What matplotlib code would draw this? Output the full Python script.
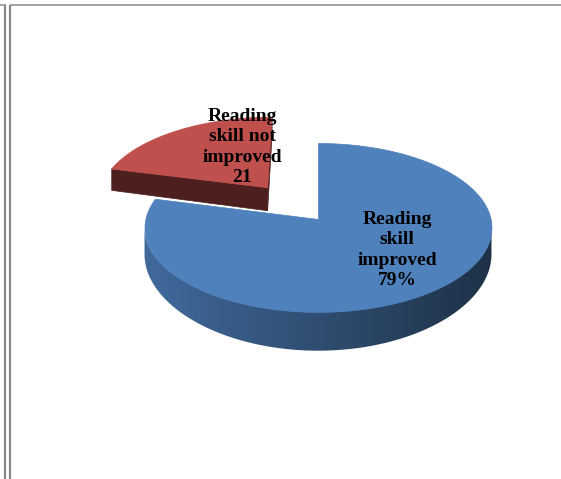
import numpy as np
import matplotlib.pyplot as plt
from matplotlib.collections import PolyCollection
from matplotlib.patches import Polygon
from matplotlib.colors import to_rgb

labels = ['Reading\nskill\nimproved\n79%', 'Reading\nskill not\nimproved\n21']
values = [79, 21]
colors = ['#4f81bd', '#c0504d']
explode = [0.0, 0.5]

# pie disc -> canvas pixels, with a little perspective
cx, cy = 318, 219
rx, ry = 172.6, 83.6
k = 0.1
thick, k_side = 26, 0.33


def project(u, v):
    s = 1 + k * v
    return cx + rx * u / s, cy - ry * v / s


def depth(v):
    return thick / (1 + k_side * v)


def shade(c, f):
    return tuple(np.clip(np.array(to_rgb(c)) * f, 0, 1))


fig = plt.figure(figsize=(5.61, 4.79), dpi=100)
ax = fig.add_axes([0, 0, 1, 1])
ax.set_xlim(0, 561)
ax.set_ylim(479, 0)
ax.axis('off')

# frame lines
gray = '#888888'
ax.plot([5, 5], [5, 479], color=gray, lw=1.6, solid_capstyle='butt')
ax.plot([10, 10], [5, 479], color=gray, lw=1.6, solid_capstyle='butt')
ax.plot([0, 6], [5, 5], color=gray, lw=1.1, solid_capstyle='butt')
ax.plot([10, 561], [5, 5], color=gray, lw=1.1, solid_capstyle='butt')

total = sum(values)
sweeps = [360.0 * v / total for v in values]
starts = 90 - np.concatenate([[0], np.cumsum(sweeps)[:-1]])
cam = np.array([0.0, -1.0 / k])

slices = []
for i, (val, sw) in enumerate(zip(values, sweeps)):
    t0, t1 = starts[i], starts[i] - sw
    mid = np.radians((t0 + t1) / 2)
    off = explode[i] * np.array([np.cos(mid), np.sin(mid)])
    slices.append((i, t0, t1, off))

# back slices first
slices.sort(key=lambda s: -s[3][1])

for i, t0, t1, off in slices:
    col = colors[i]
    ts = np.radians(np.linspace(t0, t1, 400))
    rim = np.column_stack([off[0] + np.cos(ts), off[1] + np.sin(ts)])

    # radial cut faces
    for t, turn in ((t0, 90), (t1, -90)):
        a = np.radians(t)
        n = np.array([np.cos(a + np.radians(turn)), np.sin(a + np.radians(turn))])
        p = off + np.array([np.cos(a), np.sin(a)])
        if np.dot(n, cam - (off + p) / 2) <= 0.01:
            continue
        q0 = project(*off)
        q1 = project(*p)
        face = [q0, q1, (q1[0], q1[1] + depth(p[1])), (q0[0], q0[1] + depth(off[1]))]
        fc = shade(col, 0.4)
        ax.add_collection(PolyCollection([face], facecolors=[fc], edgecolors=[fc], lw=0.5))

    # outer rim, front part only, shaded left to right
    front = np.sin(ts) < -k
    if front.any():
        top = [project(*r) for r in rim[front]]
        bot = [(x, y + depth(r[1])) for (x, y), r in zip(top, rim[front])]
        outline = np.array(top + bot[::-1])
        patch = Polygon(outline, closed=True, facecolor='none', edgecolor='none')
        ax.add_patch(patch)
        x0, x1 = outline[:, 0].min() - 2, outline[:, 0].max() + 2
        y0, y1 = outline[:, 1].min() - 2, outline[:, 1].max() + 2
        xs = np.linspace(x0, x1, 300)
        cos_t = np.clip((xs - cx - off[0] * rx) / rx, -1, 1)
        f = 0.6 - 0.22 * cos_t
        grad = np.array([shade(col, fi) for fi in f])[None, :, :]
        im = ax.imshow(grad, extent=(x0, x1, y1, y0), aspect='auto',
                       interpolation='bilinear', zorder=patch.get_zorder())
        im.set_clip_path(patch)

    # top face
    pts = [project(*off)] + [project(u, v) for u, v in rim]
    ax.add_collection(PolyCollection([pts], facecolors=[col], edgecolors=[col], lw=0.5, zorder=2))

ax.set_xlim(0, 561)
ax.set_ylim(479, 0)

# data labels
label_pos = [(397, 250), (242, 147)]
for lab, (x, y) in zip(labels, label_pos):
    ax.text(x, y, lab, ha='center', va='center', fontsize=14, fontweight='bold',
            family='Liberation Serif', linespacing=1.25, color='black', zorder=5)

fig.savefig('out.png', dpi=100)
